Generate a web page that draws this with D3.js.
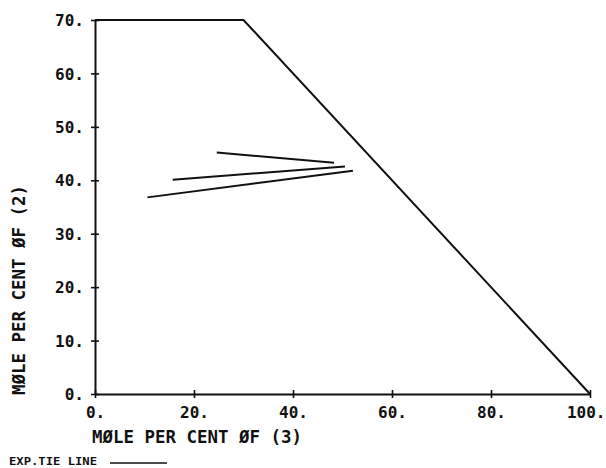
<!DOCTYPE html>
<html>
<head>
<meta charset="utf-8">
<script src="https://cdn.jsdelivr.net/npm/d3@7"></script>
<style>
  html, body { margin: 0; padding: 0; background: #ffffff; }
  svg { display: block; }
  text { font-family: "DejaVu Sans Mono", monospace; font-weight: bold; fill: #111; }
</style>
</head>
<body>
<svg id="chart" width="606" height="468"></svg>
<script>
// Composition axes (mole per cent)
const xTicks = [0, 20, 40, 60, 80, 100];
const xTickLabels = ["0.", "20.", "40.", "60.", "80.", "100."];
const yTicks = [0, 10, 20, 30, 40, 50, 60, 70];
const yTickLabels = ["0.", "10.", "20.", "30.", "40.", "50.", "60.", "70."];

// Region boundary: top cut at 70 % of (2), then the line (2)+(3) = 100
const boundaryX = [0, 30, 100];
const boundaryY = [70, 70, 0];

// Experimental tie lines: [x start, y start, x end, y end]
const tieX1 = [24.6, 15.7, 10.6];
const tieY1 = [45.2, 40.1, 36.8];
const tieX2 = [48.3, 50.5, 52.1];
const tieY2 = [43.3, 42.6, 41.8];

const xTitle = "MØLE PER CENT ØF (3)";
const yTitle = "MØLE PER CENT ØF (2)";
const legendText = "EXP.TIE LINE";

const svg = d3.select("#chart");
const x = d3.scaleLinear().domain([0, 100]).range([95, 590]);
const y = d3.scaleLinear().domain([0, 70]).range([394, 20]);

const ink = "#111";

// Axes as plotter-style lines with cross ticks
const xAxis = d3.axisBottom(x).tickValues(xTicks).tickSize(0).tickFormat((d, i) => xTickLabels[i]);
const yAxis = d3.axisLeft(y).tickValues(yTicks).tickSize(0).tickFormat((d, i) => yTickLabels[i]);

const gx = svg.append("g").attr("transform", `translate(0,${y(0)})`).call(xAxis);
gx.select(".domain").attr("stroke", ink).attr("stroke-width", 2);
gx.selectAll(".tick line").remove();
gx.selectAll(".tick").append("line")
  .attr("y1", -4).attr("y2", 4).attr("stroke", ink).attr("stroke-width", 1.6);
gx.selectAll(".tick text")
  .attr("y", 13).attr("dy", "0.71em")
  .style("font-size", "16px").attr("fill", ink);
// keep the last label inside the page edge
gx.selectAll(".tick text").filter((d, i, n) => i === n.length - 1)
  .attr("text-anchor", "end").attr("x", 605 - x(100));

const gy = svg.append("g").attr("transform", `translate(${x(0)},0)`).call(yAxis);
gy.select(".domain").attr("stroke", ink).attr("stroke-width", 2);
gy.selectAll(".tick line").remove();
gy.selectAll(".tick").append("line")
  .attr("x1", -4).attr("x2", 4).attr("stroke", ink).attr("stroke-width", 1.6);
gy.selectAll(".tick text")
  .attr("x", -11).attr("dy", "0.35em")
  .style("font-size", "16px").attr("fill", ink);

// Boundary of the region
const boundary = boundaryX.map((v, i) => [v, boundaryY[i]]);
svg.append("path")
  .datum(boundary)
  .attr("d", d3.line().x(d => x(d[0])).y(d => y(d[1])))
  .attr("fill", "none").attr("stroke", ink).attr("stroke-width", 2)
  .attr("stroke-linejoin", "miter");

// Tie lines
svg.append("g").selectAll("line")
  .data(tieX1.map((v, i) => ({ x1: v, y1: tieY1[i], x2: tieX2[i], y2: tieY2[i] })))
  .join("line")
  .attr("x1", d => x(d.x1)).attr("y1", d => y(d.y1))
  .attr("x2", d => x(d.x2)).attr("y2", d => y(d.y2))
  .attr("stroke", ink).attr("stroke-width", 2);

// Axis titles
svg.append("text")
  .attr("x", 92).attr("y", 443)
  .attr("textLength", 210).attr("lengthAdjust", "spacingAndGlyphs")
  .style("font-size", "17px")
  .text(xTitle);

svg.append("text")
  .attr("transform", "translate(25,395) rotate(-90)")
  .attr("textLength", 210).attr("lengthAdjust", "spacingAndGlyphs")
  .style("font-size", "17px")
  .text(yTitle);

// Legend
svg.append("text")
  .attr("x", 9).attr("y", 465)
  .attr("textLength", 88).attr("lengthAdjust", "spacingAndGlyphs")
  .style("font-size", "11px")
  .text(legendText);
svg.append("line")
  .attr("x1", 110).attr("x2", 167).attr("y1", 463).attr("y2", 463)
  .attr("stroke", ink).attr("stroke-width", 1.6);
</script>
</body>
</html>
